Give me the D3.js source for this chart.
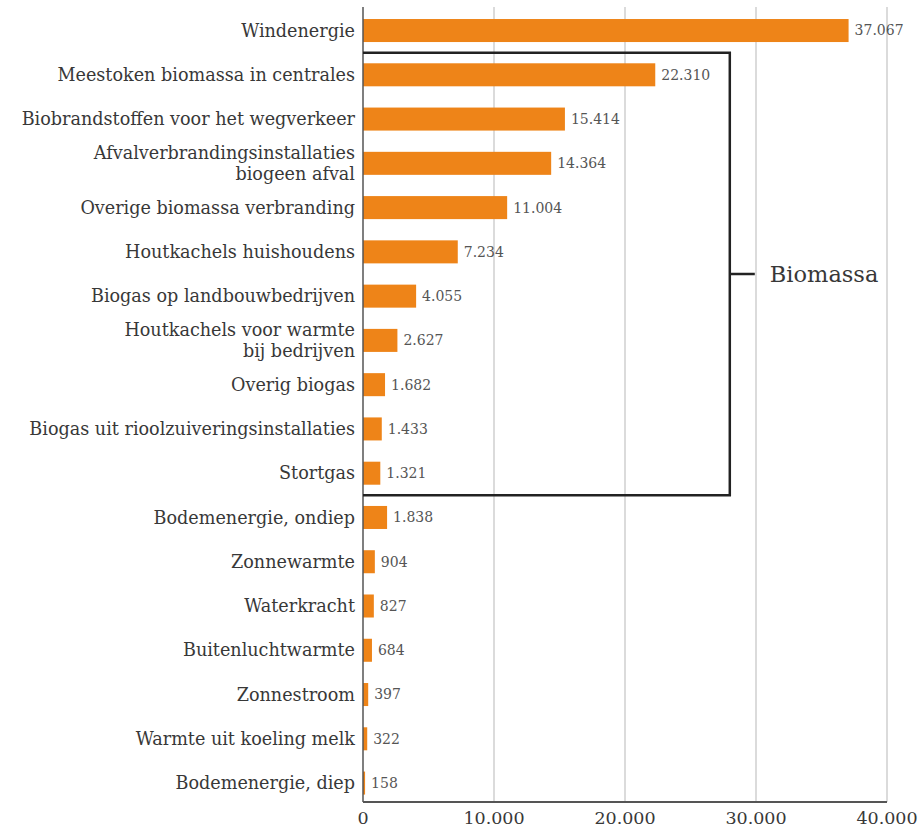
<!DOCTYPE html>
<html>
<head>
<meta charset="utf-8">
<script src="https://cdn.jsdelivr.net/npm/d3@7"></script>
<style>
  html, body { margin: 0; padding: 0; background: #fff; }
  svg { display: block; }
  text { font-family: "DejaVu Serif", serif; }
</style>
</head>
<body>
<svg id="chart" width="921" height="827"></svg>
<script>
const categories = [
  ["Windenergie"],
  ["Meestoken biomassa in centrales"],
  ["Biobrandstoffen voor het wegverkeer"],
  ["Afvalverbrandingsinstallaties", "biogeen afval"],
  ["Overige biomassa verbranding"],
  ["Houtkachels huishoudens"],
  ["Biogas op landbouwbedrijven"],
  ["Houtkachels voor warmte", "bij bedrijven"],
  ["Overig biogas"],
  ["Biogas uit rioolzuiveringsinstallaties"],
  ["Stortgas"],
  ["Bodemenergie, ondiep"],
  ["Zonnewarmte"],
  ["Waterkracht"],
  ["Buitenluchtwarmte"],
  ["Zonnestroom"],
  ["Warmte uit koeling melk"],
  ["Bodemenergie, diep"]
];
const values = [37067, 22310, 15414, 14364, 11004, 7234, 4055, 2627, 1682, 1433, 1321, 1838, 904, 827, 684, 397, 322, 158];
const ticks = [0, 10000, 20000, 30000, 40000];
const groupLabel = "Biomassa";
const groupFirst = 1, groupLast = 10;

const svg = d3.select("#chart");
const x0 = 363, x1 = 887, yAxis = 802;

const x = d3.scaleLinear().domain([0, 40000]).range([x0, x1]);
const ids = d3.range(categories.length);
const y = d3.scaleBand().domain(ids).range([8.4, 805.2]).paddingInner(0.48).paddingOuter(0.24);

const fmt = v => d3.format(",")(v).replace(/,/g, ".");

// gridlines
svg.append("g").selectAll("line").data(ticks.slice(1)).join("line")
  .attr("x1", d => x(d)).attr("x2", d => x(d))
  .attr("y1", 7).attr("y2", yAxis)
  .attr("stroke", "#c8c8c8").attr("stroke-width", 1.3);

// bars
svg.append("g").selectAll("rect").data(ids).join("rect")
  .attr("x", x(0))
  .attr("y", i => y(i))
  .attr("width", i => x(values[i]) - x(0))
  .attr("height", y.bandwidth())
  .attr("fill", "#ee8418");

// value labels
svg.append("g").selectAll("text").data(ids).join("text")
  .attr("x", i => x(values[i]) + 6)
  .attr("y", i => y(i) + y.bandwidth() / 2)
  .attr("dy", "0.35em")
  .attr("font-size", 14)
  .attr("fill", "#555")
  .text(i => fmt(values[i]));

// category labels
const cat = svg.append("g").selectAll("text").data(ids).join("text")
  .attr("text-anchor", "end")
  .attr("font-size", 17.6)
  .attr("fill", "#383838")
  .attr("x", x0 - 8)
  .attr("y", i => y(i) + y.bandwidth() / 2);
cat.each(function(i) {
  const lines = categories[i];
  const n = lines.length;
  d3.select(this).selectAll("tspan").data(lines).join("tspan")
    .attr("x", x0 - 8)
    .attr("dy", (d, k) => k === 0 ? (0.35 - (n - 1) * 0.6) + "em" : "1.2em")
    .text(d => d);
});

// axes lines
svg.append("line").attr("x1", x0).attr("x2", x0).attr("y1", 7).attr("y2", yAxis)
  .attr("stroke", "#555").attr("stroke-width", 1.5);
svg.append("line").attr("x1", x0).attr("x2", x1).attr("y1", yAxis).attr("y2", yAxis)
  .attr("stroke", "#555").attr("stroke-width", 2);

// tick labels
svg.append("g").selectAll("text").data(ticks).join("text")
  .attr("x", d => x(d)).attr("y", 818).attr("dy", "0.35em")
  .attr("text-anchor", "middle").attr("font-size", 17.5).attr("fill", "#383838")
  .text(d => fmt(d));

// bracket
const bTop = (y(groupFirst - 1) + y.bandwidth() + y(groupFirst)) / 2;
const bBot = (y(groupLast) + y.bandwidth() + y(groupLast + 1)) / 2;
const bx = x(28000);
svg.append("path")
  .attr("d", `M${x0},${bTop}H${bx}V${bBot}H${x0}M${bx},${(bTop + bBot) / 2}H${bx + 25}`)
  .attr("fill", "none").attr("stroke", "#222").attr("stroke-width", 2.5);
svg.append("text").attr("x", bx + 40).attr("y", (bTop + bBot) / 2).attr("dy", "0.35em")
  .attr("font-size", 22.5).attr("fill", "#383838").text(groupLabel);
</script>
</body>
</html>
